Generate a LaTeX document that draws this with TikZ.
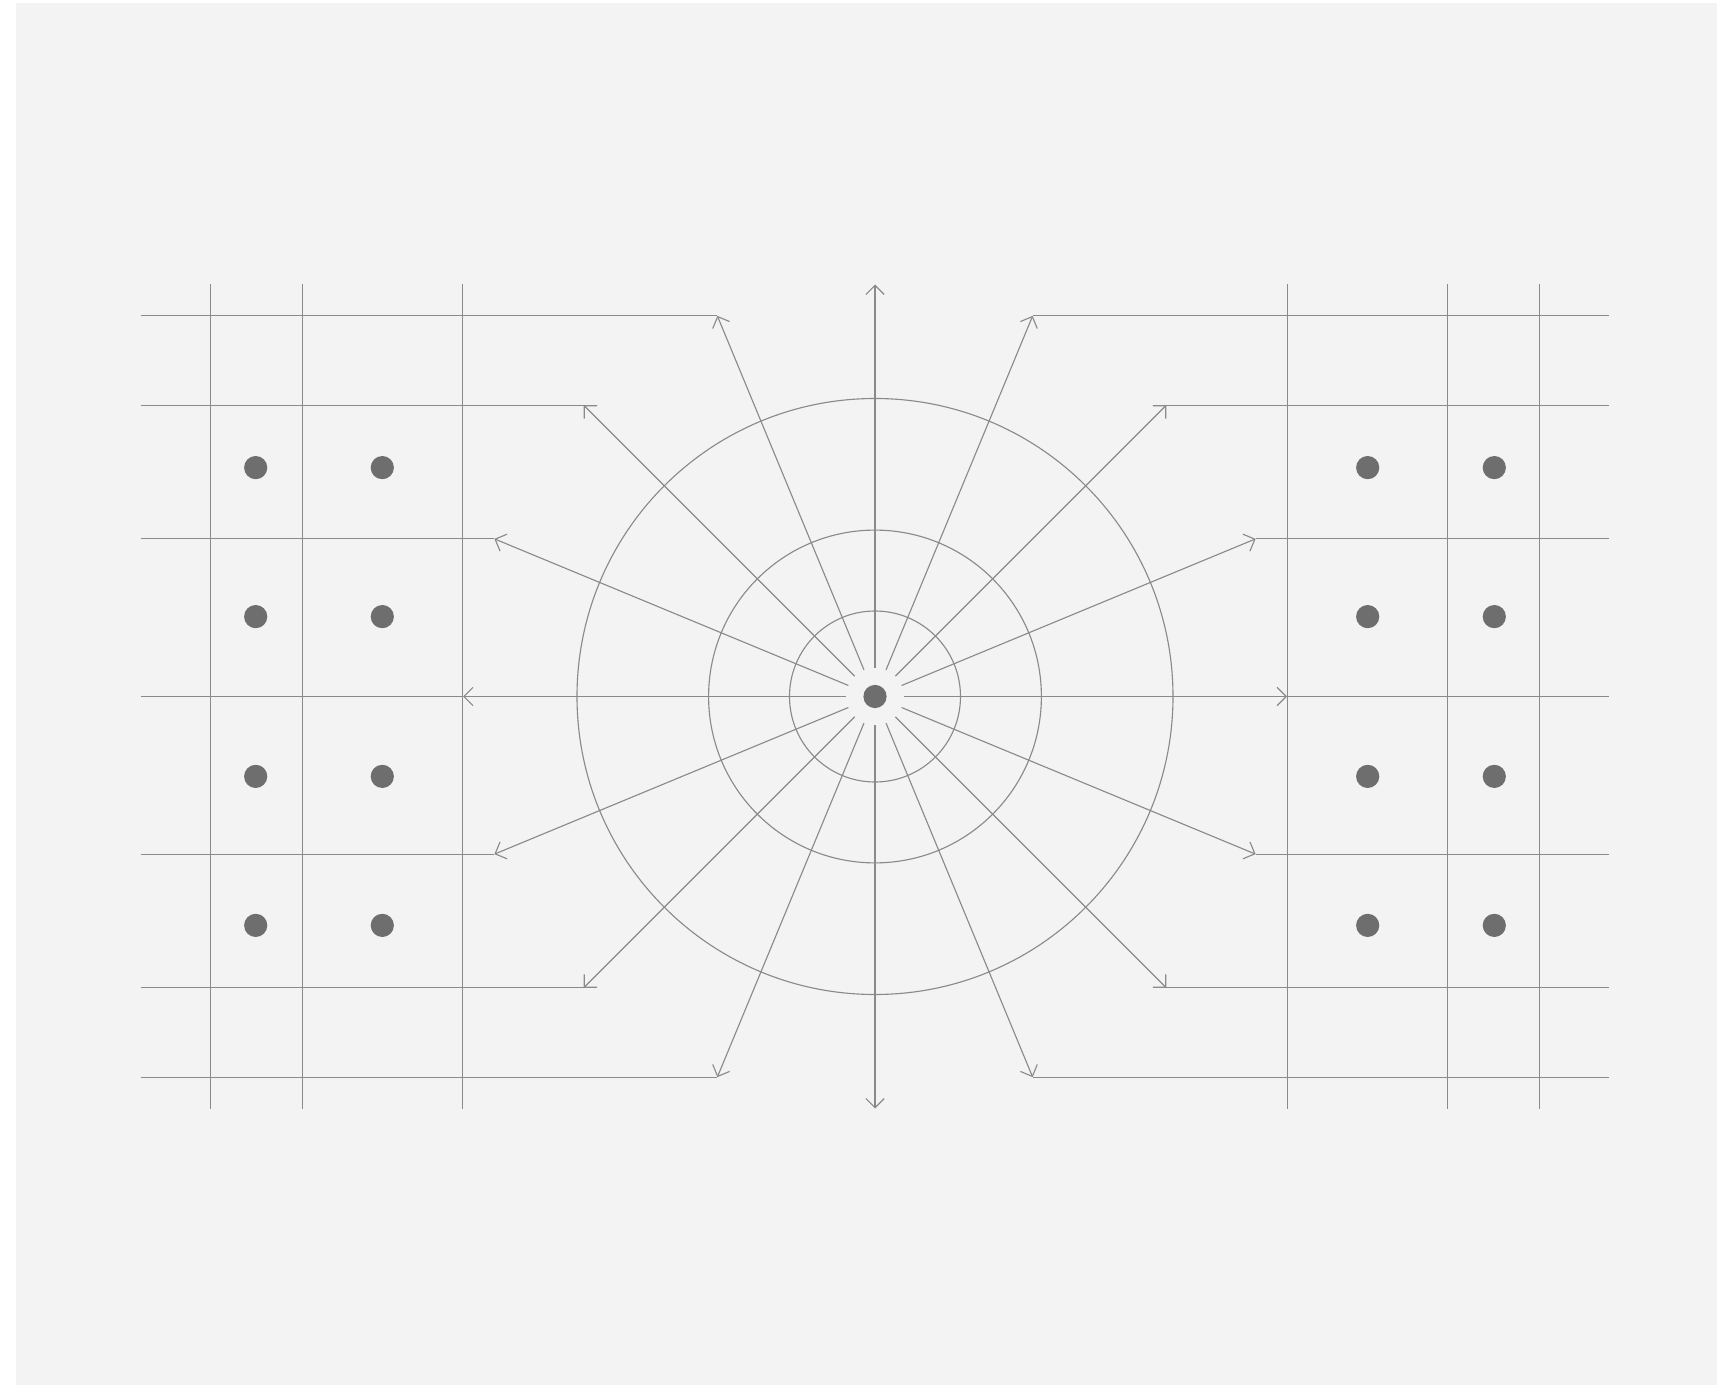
\documentclass[tikz,border=0pt]{standalone}
\usepackage{tikz}
\usetikzlibrary{arrows.meta}
\definecolor{panelgray}{HTML}{F3F3F3}
\definecolor{linegray}{HTML}{8A8A8A}
\definecolor{dotgray}{HTML}{6E6E6E}
\tikzset{
  gridline/.style={draw=linegray, line width=0.32pt},
  ray/.style={gridline, -{Straight Barb[length=2.6pt,width=5.2pt]}, shorten <=1.65mm},
  pin/.style={circle, fill=dotgray, inner sep=0pt, minimum size=6.6pt}
}

\begin{document}
\begin{tikzpicture}[x=0.01cm, y=-0.01cm]
            \useasboundingbox (0,0) rectangle (1717,1385);
            \fill[panelgray] (16,3.5) rectangle (1717,1385);
            \begin{scope}[shift={(875,696.5)}]
                        \node[pin] (hub) at (0,0) {};
                        \coordinate (rimL) at (-733.6,0);
                        \coordinate (rimR) at (733.6,0);
                        \foreach \r in {85.5,166.4,298}
                                    \draw[gridline] (hub.center) circle[radius=\r];
                        \foreach \x in {-664.7,-572.7,-412.8,412.8,572.7,664.7}
                                    \draw[gridline] (\x,-412) -- (\x,412);
                        \foreach \i in {0,...,15}{
                                    \coordinate (tip\i) at (\i*22.5:412);
                                    \draw[ray] (hub) -- (tip\i);
                        }
                        \foreach \i in {0,1,3,13,15}
                                    \draw[gridline] (tip\i) -- (tip\i -| rimR);
                        \foreach \i in {2,14}
                                    \draw[gridline] ([xshift=-1.2mm]tip\i) -- (tip\i -| rimR);
                        \foreach \i in {5,7,8,9,11}
                                    \draw[gridline] (tip\i) -- (tip\i -| rimL);
                        \foreach \i in {6,10}
                                    \draw[gridline] ([xshift=1.2mm]tip\i) -- (tip\i -| rimL);
                        \foreach \x [count=\c] in {-619.3,-492.7,492.7,619.3}
                                    \foreach \y [count=\r] in {-228.9,-79.9,79.9,228.9}
                                                \node[pin] (dot\c\r) at (\x,\y) {};
            \end{scope}
\end{tikzpicture}
\end{document}
